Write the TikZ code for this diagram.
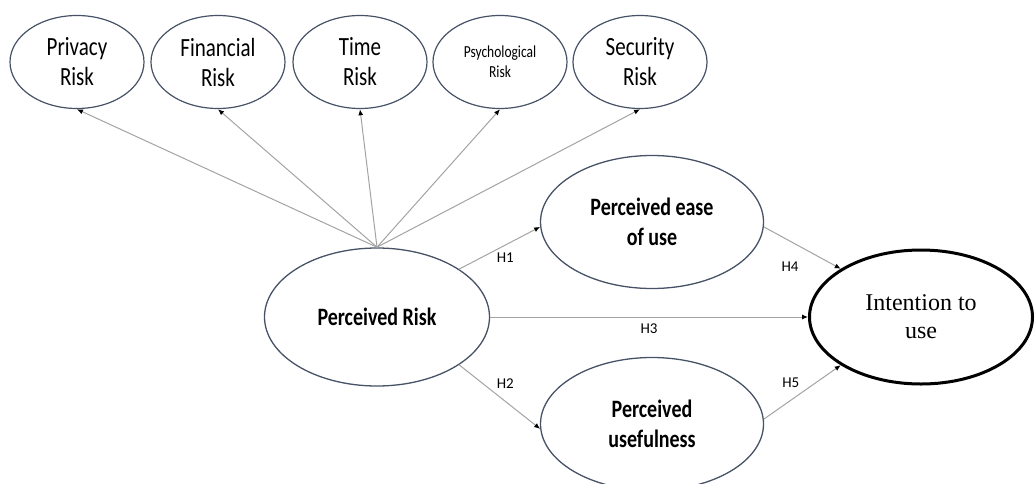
\documentclass[tikz,border=0pt]{standalone}
\usepackage{fontspec}
\setmainfont{Carlito}
\newfontfamily\timesfont{Liberation Serif}
\usepackage{xcolor}
\usetikzlibrary{arrows.meta,positioning,shapes.geometric}
\definecolor{ringcol}{HTML}{475266}
\definecolor{linkcol}{HTML}{A3A3A3}

\begin{document}
\begin{tikzpicture}[x=1pt, y=-1pt,
  tall/.style={yscale=1.25, transform shape},
  riskbox/.style={ellipse, tall, draw=ringcol, line width=1.2pt, inner sep=0pt, align=center,
                  minimum width=134pt, minimum height=74.4pt, font=\fontsize{21}{24}\selectfont},
  construct/.style={ellipse, tall, draw=ringcol, line width=1.3pt, inner sep=0pt, align=center,
                  minimum width=223pt, minimum height=106.4pt, font=\bfseries\fontsize{20}{24}\selectfont},
  outcome/.style={ellipse, draw, line width=3pt, inner sep=0pt, align=center,
                  minimum width=223pt, minimum height=134pt, font=\timesfont\fontsize{24}{28}\selectfont},
  arr/.style={draw=linkcol, line width=1pt, -{Latex[length=6pt, width=5pt, color=black]}},
  hyp/.style={font=\fontsize{15}{17}\selectfont}]
\useasboundingbox (0,0) rectangle (1036,483);
% risk dimensions
\node[riskbox] (privacy) at (77,62) {Privacy\\Risk};
\node[riskbox] (financial) at (218,62) {Financial\\Risk};
\node[riskbox] (time) at (360,62) {Time\\Risk};
\node[riskbox, font=\fontsize{13.5}{16}\selectfont] (psych) at (500,62) {Psychological\\Risk};
\node[riskbox] (security) at (640,62) {Security\\Risk};
% model constructs
\node[construct, minimum width=225pt, minimum height=110.4pt] (perceived) at (377,317) {Perceived Risk};
\node[construct] (ease) at (652,222) {Perceived ease\\of use};
\node[construct] (useful) at (652,424) {Perceived\\usefulness};
\node[outcome] (intention) at (921,317) {Intention to\\use};
\foreach \t in {privacy,financial,time,psych,security}
  \draw[arr] (perceived.north) -- (\t.south);
\draw[arr] (perceived.25) -- node[hyp, pos=0.57, below=4pt] {H1} (ease.182);
\draw[arr] (perceived.-25) -- node[hyp, pos=0.57, above=9pt] {H2} (useful.182);
\draw[arr] (perceived.east) -- node[hyp, pos=0.5, below=3pt] {H3} (intention.west);
\draw[arr] (ease.-2) -- node[hyp, pos=0.34, below=17pt] {H4} (intention.149);
\draw[arr] (useful.2) -- node[hyp, pos=0.35, above=9pt] {H5} (intention.211);
\end{tikzpicture}
\end{document}
